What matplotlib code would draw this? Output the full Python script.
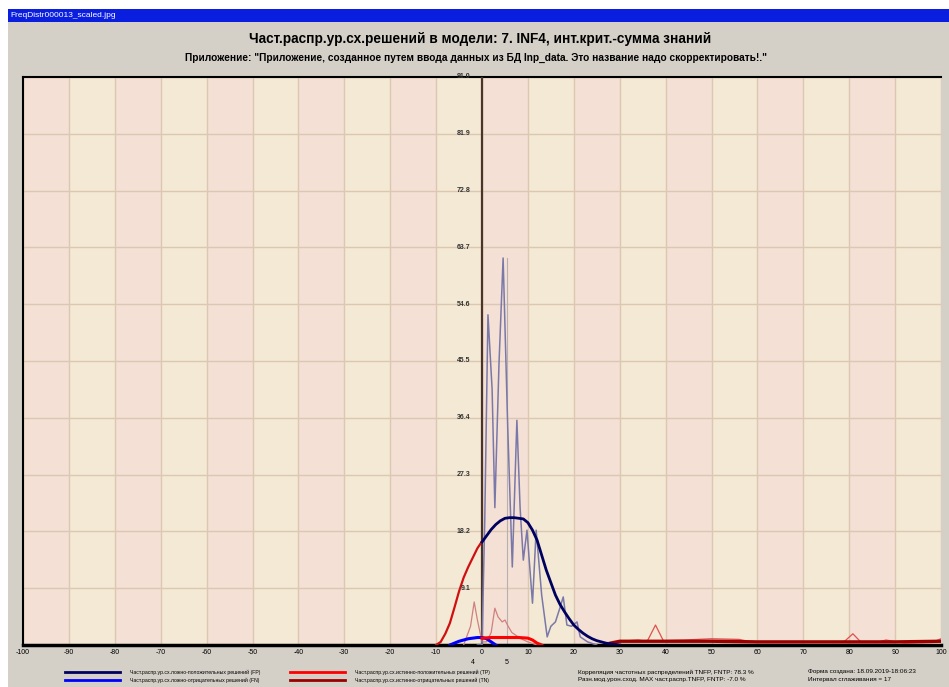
import matplotlib
matplotlib.use("Agg")
import matplotlib.pyplot as plt
from matplotlib.patches import Rectangle

W, H = 949, 687
FONT = ['Liberation Sans Narrow', 'Liberation Sans', 'DejaVu Sans']
plt.rcParams['font.family'] = FONT

# ---------------- data ----------------
x_ticks = list(range(-100, 101, 10))
y_ticks = [0, 9.1, 18.2, 27.3, 36.4, 45.5, 54.6, 63.7, 72.8, 81.9, 91.0]
y_tick_labels = ["0", "9.1", "18.2", "27.3", "36.4", "45.5", "54.6", "63.7", "72.8", "81.9", "91.0"]

# FP raw (thin, spiky)
fp_raw_x = [-1, 0, 0.6, 1.3, 2.2, 2.8, 3.7, 4.6, 5.6, 6.6, 7.6, 8.3, 9.0, 9.8, 11.0, 11.8, 13.0, 14.2, 15.0, 16.0, 17.0, 17.7, 18.5, 19.5, 20.7, 21.4, 23, 25]
fp_raw_y = [0, 0, 20, 52.9, 41, 22, 45, 62, 35, 12.5, 36, 22, 13.6, 18.4, 6.7, 18.4, 8, 1.3, 3, 3.7, 6, 7.7, 3.2, 3, 3.7, 1.3, 0.5, 0]

# TP raw (thin, light red)
tp_raw_x = [-4, -2.5, -1.7, -1.0, 0, 1, 2, 2.8, 3.5, 4.4, 5.0, 5.7, 6.5, 7.5, 8.5, 10, 12]
tp_raw_y = [0, 3, 6.9, 4, 0.5, 0.5, 2, 5.9, 4.5, 3.7, 4, 3, 2, 1.5, 1, 0.5, 0]

# TN raw (thin, far right)
tn_raw_x = [28, 30, 34, 36, 37.8, 39.5, 44, 50, 56, 58, 62, 66, 72, 77, 79, 80.8, 82.5, 86, 88, 92, 98, 100]
tn_raw_y = [0, 0.6, 0.8, 0.6, 3.2, 0.7, 0.8, 1.0, 0.9, 0.6, 0.4, 0.5, 0.5, 0.4, 0.6, 1.8, 0.5, 0.4, 0.8, 0.3, 0.4, 1.0]

# FP smoothed (thick navy)
fp_x = [0, 1, 2, 3, 4, 5, 6, 7, 8, 9, 10, 11, 12, 13, 14, 15, 16, 17, 18, 19, 20, 21, 22, 23, 24, 25, 26, 27, 28, 30]
fp_y = [16.5, 17.5, 18.5, 19.3, 19.9, 20.3, 20.4, 20.4, 20.3, 20.2, 19.6, 18.4, 16.8, 14.4, 12.0, 10.0, 8.0, 6.5, 5.3, 4.2, 3.2, 2.5, 1.9, 1.4, 1.0, 0.7, 0.5, 0.3, 0.2, 0]

# TN smoothed rising (thick red, left)
tnl_x = [-10, -9, -8, -7, -6, -5, -4, -3, -2, -1, 0]
tnl_y = [0, 0.5, 1.8, 3.5, 6, 8.6, 10.8, 12.5, 14, 15.5, 16.6]

# FN smoothed (thick blue)
fn_x = [-7, -5, -3, -1, 0, 1, 2, 3]
fn_y = [0, 0.6, 1.0, 1.2, 1.2, 1.0, 0.5, 0]

# TP smoothed (thick red, low)
tp_x = [0, 2, 4, 6, 8, 10, 11, 12, 13]
tp_y = [1.1, 1.2, 1.2, 1.2, 1.2, 1.1, 0.8, 0.3, 0]

# TN smoothed right (thick dark red)
tnr_x = [28, 30, 40, 50, 60, 70, 80, 90, 100]
tnr_y = [0.3, 0.6, 0.6, 0.6, 0.5, 0.5, 0.5, 0.5, 0.6]

legend_labels = [
    "Част.распр.ур.сх.ложно-положительных решений (FP)",
    "Част.распр.ур.сх.ложно-отрицательных решений (FN)",
    "Част.распр.ур.сх.истинно-положительных решений (TP)",
    "Част.распр.ур.сх.истинно-отрицательных решений (TN)",
]
info_labels = [
    "Корреляция частотных распределений TNFP, FNTP: 78.3 %",
    "Разн.мод.урон.сход. MAX част.распр.TNFP, FNTP: -7.0 %",
    "Форма создана: 18.09.2019-18:06:23",
    "Интервал сглаживания = 17",
]
title = "Част.распр.ур.сх.решений в модели: 7. INF4, инт.крит.-сумма знаний"
subtitle = 'Приложение: "Приложение, созданное путем ввода данных из БД Inp_data. Это название надо скорректировать!."'
window_title = "FreqDistr000013_scaled.jpg"

# ---------------- figure ----------------
fig = plt.figure(figsize=(W / 100, H / 100), dpi=100, facecolor="white")

def fx(px):
    return px / W

def fy(py):
    return 1 - py / H

# window background
fig.add_artist(Rectangle((fx(8), 0), 1 - fx(8), fy(22), transform=fig.transFigure,
                         facecolor="#d4d0c8", edgecolor="none", zorder=-10))
fig.add_artist(Rectangle((fx(8), fy(22)), 1 - fx(8), (22 - 9) / H, transform=fig.transFigure,
                         facecolor="#0a1ee0", edgecolor="none", zorder=-10))
fig.text(fx(10), fy(15.5), window_title, color="white", fontsize=6.0, va="center", ha="left")

fig.text(fx(480), fy(39), title, fontsize=9.8, fontweight="bold", ha="center", va="center")
fig.text(fx(476), fy(58), subtitle, fontsize=7.3, fontweight="bold", ha="center", va="center")

L, R, T, B = 23, 941, 77, 645
ax = fig.add_axes([fx(L), fy(B), (R - L) / W, (B - T) / H])
ax.set_zorder(1)
ax.set_xlim(-100, 100)
ax.set_ylim(0, 91)

# background bands
pink, yellow = "#f4e0d4", "#f4e9d4"
for i, x0 in enumerate(range(-100, 100, 10)):
    ax.axvspan(x0, x0 + 10, color=pink if i % 2 == 0 else yellow, zorder=0, lw=0)
for xv in x_ticks:
    ax.axvline(xv, color="#dcc7b2", lw=1.0, zorder=1)
for yv in y_ticks:
    ax.axhline(yv, color="#dcc7b2", lw=1.0, zorder=1)

# marker line
ax.plot([5.5, 5.5], [0, 62], color="#b8b0b0", lw=0.8, zorder=2)
# y axis line at zero
ax.axvline(0, color="#4a3328", lw=1.6, zorder=3)

# curves
ax.plot(tn_raw_x, tn_raw_y, color="#e05050", lw=0.9, zorder=4)
ax.plot(tp_raw_x, tp_raw_y, color="#d08080", lw=0.9, zorder=4)
ax.plot(fp_raw_x, fp_raw_y, color="#7a78a8", lw=1.1, zorder=5)
ax.plot(tnr_x, tnr_y, color="#9a0000", lw=2.4, zorder=5)
ax.plot(tnl_x, tnl_y, color="#d01010", lw=1.6, zorder=6)
ax.plot(fn_x, fn_y, color="#0000ff", lw=2.2, zorder=6)
ax.plot(tp_x, tp_y, color="#ff0000", lw=2.2, zorder=6)
ax.plot(fp_x, fp_y, color="#000060", lw=2.0, zorder=7)

# y tick labels near the zero axis
for yv, lab in zip(y_ticks[1:], y_tick_labels[1:]):
    ax.text(-2.5, yv, lab, fontsize=5.0, fontweight="bold", ha="right", va="center",
            color="#333333", zorder=8)

ax.set_xticks(x_ticks)
ax.set_xticklabels([str(v) for v in x_ticks], fontsize=5.0)
ax.set_yticks([])
ax.tick_params(axis="x", length=0, pad=3)
for side in ["left", "top"]:
    ax.spines[side].set_linewidth(1.5)
    ax.spines[side].set_color("black")
ax.spines["bottom"].set_linewidth(2.5)
ax.spines["bottom"].set_color("black")
ax.spines["right"].set_visible(False)

# small labels under axis
fig.text(fx(473), fy(663), "4", fontsize=5.0, ha="center", va="center")
fig.text(fx(507), fy(663), "5", fontsize=5.0, ha="center", va="center")

# legend at bottom
leg_colors = ["#000060", "#0000ff", "#ff0000", "#9a0000"]
pos = [(65, 120, 130, 672), (65, 120, 130, 680), (290, 345, 355, 672), (290, 345, 355, 680)]
for (x0, x1, xt, yy), c, lab in zip(pos, leg_colors, legend_labels):
    fig.add_artist(plt.Line2D([fx(x0), fx(x1)], [fy(yy), fy(yy)], color=c, lw=2.0,
                              transform=fig.transFigure))
    fig.text(fx(xt), fy(yy), lab, fontsize=3.7, ha="left", va="center")

fig.text(fx(578), fy(672), info_labels[0], fontsize=4.6, ha="left", va="center")
fig.text(fx(578), fy(680), info_labels[1], fontsize=4.6, ha="left", va="center")
fig.text(fx(808), fy(672), info_labels[2], fontsize=4.6, ha="left", va="center")
fig.text(fx(808), fy(680), info_labels[3], fontsize=4.6, ha="left", va="center")

fig.savefig("out.png", dpi=100, facecolor="white")
